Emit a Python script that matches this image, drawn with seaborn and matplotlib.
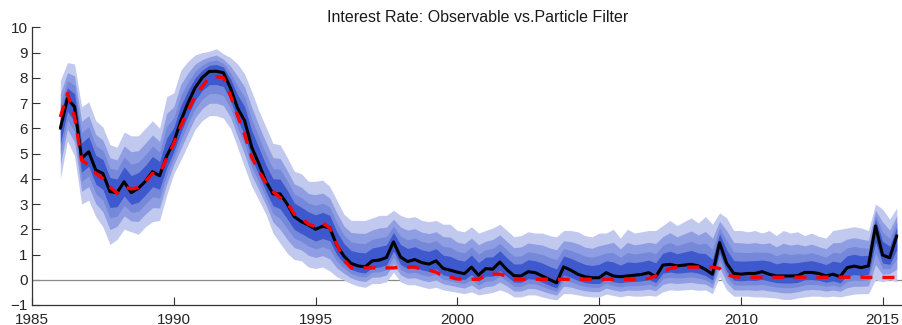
import numpy as np
import pandas as pd
import matplotlib
matplotlib.use("Agg")
import matplotlib.pyplot as plt
import seaborn as sns

# Quarterly sample starting 1986Q1
start_year = 1986.0

# Particle-filter estimate of the interest rate (median path)
filtered = [
    6.0, 7.18, 6.85, 4.81, 5.07, 4.34, 4.21, 3.49, 3.45, 3.88,
    3.45, 3.62, 3.9, 4.28, 4.12, 4.9, 5.45, 6.3, 7.0, 7.6,
    8.0, 8.25, 8.26, 8.2, 7.6, 6.8, 6.3, 5.25, 4.6, 3.9,
    3.4, 3.4, 3.0, 2.5, 2.3, 2.17, 2.0, 2.12, 2.06, 1.37,
    0.94, 0.65, 0.55, 0.51, 0.75, 0.78, 0.88, 1.5, 0.9, 0.72,
    0.8, 0.68, 0.62, 0.75, 0.45, 0.38, 0.3, 0.24, 0.5, 0.18,
    0.44, 0.42, 0.7, 0.4, 0.16, 0.15, 0.32, 0.28, 0.15, 0.01,
    -0.12, 0.51, 0.38, 0.22, 0.12, 0.08, 0.08, 0.28, 0.15, 0.12,
    0.15, 0.18, 0.21, 0.28, 0.12, 0.58, 0.61, 0.55, 0.58, 0.61,
    0.55, 0.41, 0.22, 1.47, 0.65, 0.25, 0.22, 0.25, 0.25, 0.32,
    0.22, 0.15, 0.15, 0.15, 0.16, 0.29, 0.29, 0.25, 0.15, 0.22,
    0.12, 0.48, 0.54, 0.48, 0.55, 2.13, 0.98, 0.87, 1.74,
]

# Observed interest rate
observed = [
    6.45, 7.38, 6.46, 4.74, 4.54, 4.21, 4.01, 3.68, 3.42, 3.68,
    3.6, 3.65, 3.88, 4.21, 4.21, 4.81, 5.4, 6.1, 6.7, 7.25,
    7.65, 8.0, 8.05, 8.0, 7.3, 6.5, 5.75, 4.85, 4.3, 3.85,
    3.5, 3.25, 3.05, 2.6, 2.45, 2.2, 2.1, 2.25, 2.05, 1.4,
    0.8, 0.47, 0.47, 0.47, 0.47, 0.47, 0.47, 0.47, 0.5, 0.5,
    0.5, 0.42, 0.38, 0.3, 0.15, 0.1, 0.03, 0.02, 0.02, 0.02,
    0.15, 0.22, 0.22, 0.15, 0.03, 0.02, 0.02, 0.02, 0.02, 0.02,
    0.02, 0.02, 0.02, 0.02, 0.02, 0.02, 0.02, 0.02, 0.02, 0.02,
    0.02, 0.02, 0.02, 0.05, 0.15, 0.3, 0.45, 0.5, 0.5, 0.5,
    0.5, 0.5, 0.5, 0.45, 0.2, 0.12, 0.1, 0.1, 0.1, 0.1,
    0.1, 0.1, 0.1, 0.1, 0.1, 0.1, 0.1, 0.1, 0.1, 0.1,
    0.1, 0.1, 0.1, 0.1, 0.09, 0.09, 0.09, 0.09, 0.09,
]

# Outer credible band of the particle cloud
outer_upper = [
    7.9, 8.6, 8.55, 6.85, 7.05, 6.3, 6.05, 5.35, 5.25, 5.85,
    5.7, 5.7, 6.0, 6.3, 6.0, 7.25, 7.4, 8.3, 8.65, 8.9,
    9.0, 9.05, 9.15, 8.95, 8.8, 8.55, 8.15, 7.45, 6.7, 6.05,
    5.4, 5.35, 4.85, 4.3, 4.2, 3.9, 3.9, 3.95, 3.7, 3.15,
    2.6, 2.35, 2.35, 2.35, 2.45, 2.55, 2.55, 2.75, 2.55, 2.45,
    2.5, 2.35, 2.3, 2.35, 2.2, 2.2, 1.95, 1.9, 2.1, 1.85,
    1.95, 2.05, 2.2, 1.95, 1.7, 1.75, 1.9, 1.85, 1.85, 1.75,
    1.7, 1.95, 1.95, 1.9, 1.75, 1.7, 1.85, 1.85, 2.0, 1.65,
    2.0, 1.85, 1.9, 1.95, 1.95, 2.15, 2.35, 2.15, 2.3, 2.45,
    2.25, 2.5, 2.2, 2.65, 2.45, 1.95, 1.95, 1.9, 1.95, 1.85,
    1.95, 1.75, 1.95, 1.85, 1.9, 1.75, 1.85, 1.72, 1.65, 1.95,
    2.0, 2.05, 2.1, 2.05, 1.95, 3.0, 2.8, 2.4, 2.85,
]
outer_lower = [
    4.0, 5.5, 4.9, 3.0, 3.15, 2.5, 2.1, 1.4, 1.6, 2.0,
    1.9, 1.8, 2.1, 2.3, 2.35, 3.35, 4.2, 4.75, 5.35, 5.95,
    6.3, 6.5, 6.5, 6.4, 6.0, 5.25, 4.45, 3.7, 3.15, 2.6,
    1.85, 1.45, 1.05, 0.8, 0.75, 0.5, 0.45, 0.5, 0.35, 0.12,
    -0.01, -0.15, -0.25, -0.3, -0.15, -0.15, -0.08, 0.3, -0.08, -0.2,
    -0.2, -0.28, -0.35, -0.3, -0.4, -0.45, -0.5, -0.55, -0.48, -0.6,
    -0.55, -0.5, -0.4, -0.5, -0.68, -0.68, -0.6, -0.6, -0.68, -0.75,
    -0.8, -0.55, -0.55, -0.6, -0.65, -0.68, -0.68, -0.57, -0.62, -0.68,
    -0.62, -0.65, -0.65, -0.62, -0.65, -0.48, -0.4, -0.42, -0.4, -0.38,
    -0.42, -0.4, -0.55, 0.12, -0.4, -0.65, -0.65, -0.65, -0.68, -0.68,
    -0.7, -0.72, -0.78, -0.78, -0.72, -0.68, -0.65, -0.65, -0.68, -0.65,
    -0.68, -0.62, -0.57, -0.55, -0.55, 0.0, -0.08, 0.0, -0.08,
]

# Nested bands as a share of the outer band's spread around the median
band_levels = [1.0, 0.72, 0.5, 0.3]
band_colors = ["#c1c9ef", "#8f9ee2", "#7588da", "#3e58cd"]

x_ticks = [1985, 1990, 1995, 2000, 2005, 2010, 2015]
y_ticks = list(range(-1, 11))
title = "Interest Rate: Observable vs.Particle Filter"

n = len(filtered)
df = pd.DataFrame({
    "date": start_year + 0.25 * np.arange(n),
    "filtered": filtered,
    "observed": observed,
    "upper": outer_upper,
    "lower": outer_lower,
})

sns.set_theme(style="ticks")
plt.rcParams["font.family"] = ["Liberation Sans", "DejaVu Sans"]

W, H = 903, 325
fig = plt.figure(figsize=(W / 100, H / 100), dpi=100)
ax = fig.add_axes([32 / W, 1 - 305 / H, 871 / W, (305 - 27.3) / H])

ax.axhline(0, color="#8a8a8a", lw=0.9, zorder=1)

for lev, col in zip(band_levels, band_colors):
    lo = df["filtered"] + lev * (df["lower"] - df["filtered"])
    hi = df["filtered"] + lev * (df["upper"] - df["filtered"])
    ax.fill_between(df["date"], lo, hi, color=col, lw=0, zorder=2)

sns.lineplot(data=df, x="date", y="filtered", color="black", lw=2.2,
             ax=ax, zorder=3)
sns.lineplot(data=df, x="date", y="observed", color="#ff0000", lw=2.4,
             linestyle=(0, (3.6, 3.0)), ax=ax, zorder=4)

ax.set_xlim(1985, 2015.72)
ax.set_ylim(-1, 10)
ax.set_xticks(x_ticks)
ax.set_yticks(y_ticks)
ax.set_xlabel("")
ax.set_ylabel("")
for s in ("top", "right"):
    ax.spines[s].set_visible(False)
for s in ("left", "bottom"):
    ax.spines[s].set_color("#333333")
    ax.spines[s].set_linewidth(0.9)
ax.tick_params(direction="in", length=6, width=0.8, colors="#333333",
               labelsize=11, labelcolor="#262626")
ax.tick_params(axis="y", pad=3)
ax.tick_params(axis="x", pad=5.5)

ax.set_title(title, fontsize=11.5, color="#1a1a1a", x=(478 - 32) / 871, pad=4)

fig.savefig("out.png", dpi=100)
